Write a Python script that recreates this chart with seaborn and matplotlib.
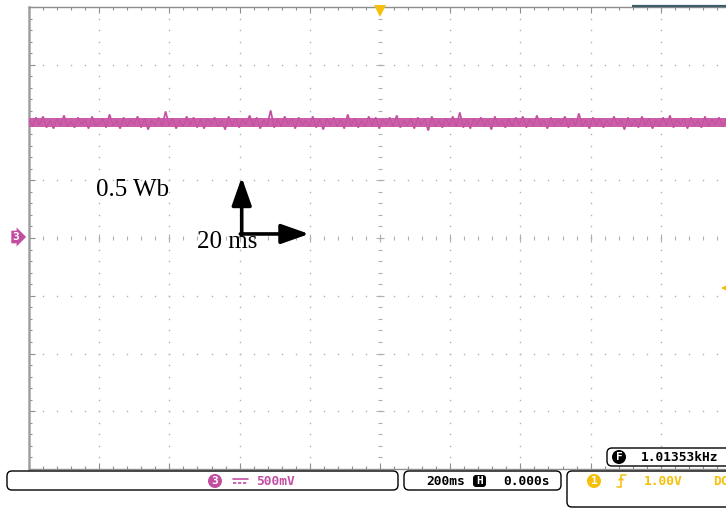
import numpy as np
import matplotlib
matplotlib.use("Agg")
import matplotlib.pyplot as plt
import seaborn as sns
import pandas as pd
from matplotlib.patches import FancyBboxPatch, Circle

# ---------------- data ----------------
trace_level_div = 2.0          # channel 3 level (divisions above ground)
px_per_div = 57.75             # screen pixels in one vertical division
# trace ripple, in screen pixels (positive = up)
trace_ripple_px = [3, -4, 5, -2, 6, -5, 2, -6, 4, -3, 7, -4, 1, -5, 5, -2, 3, -6, 6, -3,
                   -1, 4, -5, 8, -3, 2, -6, 5, -4, 3, -2, 6, -5, 4, -7, 2, -3, 5, -4, 11,
                   -3, 4, -6, 2, -4, 6, -2, 5, -5, 3, -6, 4, -1, 5, -4, 2, -7, 6, -3, 4,
                   -5, 3, -2, 7, -4, 5, -6, 2, -3, 12, -5, 3, -4, 6, -2, 4, -6, 5, -3, 2,
                   -4, 6, -5, 3, -7, 4, -2, 5, -4, 3, -6, 8, -3, 4, -5, 2, -4, 6, -3, 5,
                   -6, 3, -2, 5, -4, 7, -5, 2, -3, 4, -6, 5, -2, 3, -8, 6, -4, 2, -5, 4,
                   -3, 6, -4, 10, -5, 3, -6, 4, -2, 5, -4, 3, -7, 6, -3, 2, -5, 4, -4, 5,
                   -2, 6, -5, 3, -4, 7, -3, 2, -6, 5, -4, 3, -2, 6, -5, 4, -3, 9, -4, 2,
                   -6, 5, -3, 4, -5, 2, -4, 6, -2, 3, -7, 5, -4, 3, -5, 6, -3, 4, -6, 2,
                   -4, 5, -3, 7, -5, 3, -2, 4, -6, 5, -3, 2, -5, 6, -4, 3, -2, 5, -4, 3]
trace_core_halfwidth_px = 4.5
ch_label = "3"
ch3_scale = "500mV"
timebase = "200ms"
h_position = "0.000s"
trig_channel = "1"
trig_level = "1.00V"
trig_coupling = "DC"
frequency = "1.01353kHz"
label_flux = "0.5 Wb"
label_time = "20 ms"

# ---------------- style ----------------
W, H = 726, 508
sns.set_theme(style="white")
plt.rcParams['font.family'] = ['DejaVu Sans']
MAG = '#C24EA2'
TRACE = '#CC5DA9'
TRACE_DARK = '#B5468F'
YEL = '#F5BF0A'
GRID = '#B0B0B0'
FRAME = '#8E8E8E'
MONO = ['DejaVu Sans Mono']

fig = plt.figure(figsize=(W / 100, H / 100), dpi=100)
fig.patch.set_facecolor('white')

L, R, T, B = 29, 726, 7, 469
div_px_x = 70.2
xmax = (R - L) / div_px_x
ax = fig.add_axes([L / W, 1 - B / H, (R - L) / W, (B - T) / H])
ax.set_zorder(1)
ax.set_xlim(0, xmax)
ax.set_ylim(-4, 4)
ax.set_facecolor('white')

# graticule: dotted grid lines
dots_x, dots_y = [], []
for gx in range(1, 10):
    if gx == 5:
        continue
    for gy in np.arange(-4, 4.01, 0.2):
        dots_x.append(gx); dots_y.append(gy)
for gy in range(-3, 4):
    if gy == 0:
        continue
    for gx in np.arange(0, xmax, 0.2):
        dots_x.append(gx); dots_y.append(gy)
ax.plot(dots_x, dots_y, ls='none', marker='s', ms=1.0, mew=0, color=GRID)
# centre lines with small ticks
cx = np.arange(0, xmax, 0.2)
ax.plot(cx, np.zeros_like(cx), ls='none', marker='|', ms=3.0, mew=0.8, color=GRID)
cy = np.arange(-4, 4.01, 0.2)
ax.plot(np.full_like(cy, 5.0), cy, ls='none', marker='_', ms=3.0, mew=0.8, color=GRID)
ax.plot(np.arange(0, 10), np.zeros(10), ls='none', marker='|', ms=5.5, mew=0.8, color=GRID)
ax.plot(np.full(9, 5.0), np.arange(-4, 5), ls='none', marker='_', ms=5.5, mew=0.8, color=GRID)

# frame ticks
ax.set_xticks(np.arange(0, xmax, 1))
ax.set_yticks(np.arange(-4, 5, 1))
ax.set_xticks(np.arange(0, xmax, 0.2), minor=True)
ax.set_yticks(np.arange(-4, 4.01, 0.2), minor=True)
ax.tick_params(which='both', direction='in', color=FRAME, width=0.8,
               top=True, bottom=True, left=True, right=False,
               labelbottom=False, labelleft=False, labeltop=False)
ax.tick_params(which='major', length=4)
ax.tick_params(which='minor', length=2.5)
for s in ['top', 'bottom']:
    ax.spines[s].set_color(FRAME); ax.spines[s].set_linewidth(1.0)
ax.spines['left'].set_color('#A0A0A0'); ax.spines['left'].set_linewidth(1.8)
ax.spines['right'].set_visible(False)

# trace: solid core band plus ripple
t = np.linspace(0, xmax, len(trace_ripple_px))
v = trace_level_div + np.array(trace_ripple_px) / px_per_div
hw = trace_core_halfwidth_px / px_per_div
ax.fill_between(t, trace_level_div - hw, trace_level_div + hw, color=TRACE, lw=0, zorder=4)
df = pd.DataFrame({'t': t, 'v': v})
sns.lineplot(data=df, x='t', y='v', ax=ax, color=TRACE, lw=1.3, sort=False,
             estimator=None, zorder=5, solid_joinstyle='miter')
sns.lineplot(data=df, x='t', y='v', ax=ax, color=TRACE_DARK, lw=0.5, sort=False,
             estimator=None, zorder=5, alpha=0.7)
ax.set_xlabel(''); ax.set_ylabel('')

# annotations
ax.text(0.95, 0.83, label_flux, fontsize=18, family=['Liberation Serif'],
        ha='left', va='center', color='black', zorder=6)
ax.text(2.39, -0.07, label_time, fontsize=18, family=['Liberation Serif'],
        ha='left', va='center', color='black', zorder=6)
ox, oy = 3.03, 0.07
ap = dict(arrowstyle='-|>,head_length=0.85,head_width=0.3', lw=2.6, color='black',
          mutation_scale=20, shrinkA=0, shrinkB=0)
ax.annotate('', xy=(ox, 1.05), xytext=(ox, oy - 0.02), arrowprops=ap, zorder=6)
ax.annotate('', xy=(3.99, oy), xytext=(ox - 0.02, oy), arrowprops=ap, zorder=6)

# markers on graticule
ax.plot([5.0], [3.93], marker='v', ms=9, color=YEL, mew=0, clip_on=False, zorder=7)

# ---------------- overlay in pixel coordinates ----------------
axo = fig.add_axes([0, 0, 1, 1])
axo.set_zorder(2)
axo.set_xlim(0, W); axo.set_ylim(H, 0)
axo.axis('off')
axo.patch.set_visible(False)

# channel 3 ground marker
axo.text(16, 237, ch_label, ha='center', va='center', color='white', fontsize=8,
         weight='bold', family=MONO,
         bbox=dict(boxstyle='rarrow,pad=0.12', fc=MAG, ec='none'))
# trigger level marker at right
axo.plot([723.5], [288], marker='<', ms=4, color=YEL, mew=0)
# top-right record bar
axo.plot([632, 726], [6, 6], color='#3E5E6A', lw=1.6, solid_capstyle='butt')

def box(x, y, w, h):
    axo.add_patch(FancyBboxPatch((x, y), w, h,
                                 boxstyle='round,pad=0,rounding_size=5',
                                 fc='white', ec='black', lw=1.0))

box(7, 471, 391, 19)
box(404, 471, 157, 19)
box(567, 471, 170, 36)
box(607, 448, 130, 18)

tkw = dict(family=MONO, fontsize=9.3, weight='bold', va='center', ha='left')
# channel box
axo.add_patch(Circle((215, 481), 7, fc=MAG, ec='none'))
axo.text(215, 481, ch_label, color='white', ha='center', va='center',
         family=MONO, fontsize=8, weight='bold')
axo.plot([233, 248], [479, 479], color=MAG, lw=1.2)
axo.plot([233, 248], [483, 483], color=MAG, lw=1.2, ls=(0, (2, 1)))
axo.text(256, 481.5, ch3_scale, color=MAG, **tkw)
# timebase box
axo.text(426, 481.5, timebase, color='black', **tkw)
axo.add_patch(FancyBboxPatch((473, 475), 13, 12, boxstyle='round,pad=0,rounding_size=3',
                             fc='black', ec='none'))
axo.text(479.5, 481.5, 'H', color='white', ha='center', va='center',
         family=MONO, fontsize=8, weight='bold')
axo.text(503, 481.5, h_position, color='black', **tkw)
# trigger box
axo.add_patch(Circle((594, 481), 7, fc=YEL, ec='none'))
axo.text(594, 481, trig_channel, color='white', ha='center', va='center',
         family=MONO, fontsize=8, weight='bold')
axo.plot([617, 621, 621, 626], [487, 487, 475, 475], color=YEL, lw=1.1)
axo.plot([619, 621, 623], [480, 478, 480], color=YEL, lw=1.1)
axo.text(644, 481.5, trig_level, color=YEL, **tkw)
axo.text(713, 481.5, trig_coupling, color=YEL, **tkw)
# frequency box
axo.add_patch(Circle((619, 457), 7, fc='black', ec='none'))
axo.text(619, 457, 'F', color='white', ha='center', va='center',
         family=MONO, fontsize=8, weight='bold')
axo.text(641, 457.5, frequency, color='black', **tkw)

fig.savefig('out.png', dpi=100, facecolor='white')
